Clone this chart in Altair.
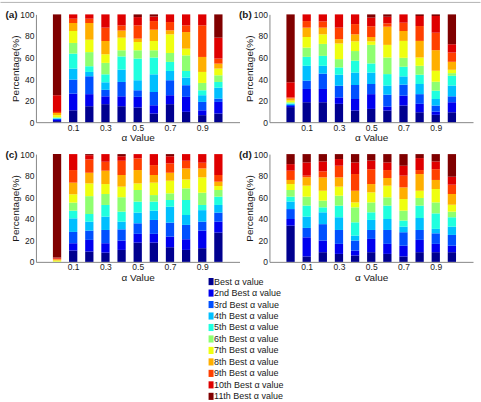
import altair as alt
import pandas as pd

# alpha settings along the x axis and the ranking categories of the stacks
alpha_values = [0.0, 0.1, 0.2, 0.3, 0.4, 0.5, 0.6, 0.7, 0.8, 0.9, 1.0]
rank_labels = [
    "Best α value", "2nd Best α value", "3rd Best α value", "4th Best α value",
    "5th Best α value", "6th Best α value", "7th Best α value", "8th Best α value",
    "9th Best α value", "10th Best α value", "11th Best α value",
]
# jet colormap sampled at 11 levels
jet_colors = ["#00008F", "#0000EF", "#0050FF", "#00BFFF", "#20FFDF", "#8FFF70",
              "#EFFF10", "#FFAF00", "#FF4000", "#DF0000", "#800000"]
x_ticks = [0.1, 0.3, 0.5, 0.7, 0.9]
y_ticks = [0, 20, 40, 60, 80, 100]

# cumulative percentage (%) at the top of each rank, one row per alpha value
cum_a = [
    [1, 2, 3, 3.5, 4, 4.5, 6.5, 8.5, 9.5, 25, 100],
    [11, 26.5, 39.5, 49.7, 63.6, 73.5, 84.6, 92, 96, 100, 100],
    [14.8, 26, 42.6, 46.6, 51.9, 65, 76.5, 92, 96, 100, 100],
    [16.7, 24, 30, 37, 44.4, 55, 63, 75.3, 87.7, 100, 100],
    [14.8, 24, 37.3, 48.8, 61, 66.7, 78.4, 85, 89.8, 100, 100],
    [13.6, 23.5, 29.6, 38.9, 59, 66.7, 74.4, 77.5, 89.8, 97.5, 100],
    [8, 15.7, 28, 44.4, 60, 66.7, 75.3, 85.8, 93.8, 98, 100],
    [16.7, 25, 38.9, 47.5, 55.9, 64.2, 81.5, 85.2, 92.9, 100, 100],
    [9.6, 23.5, 34.3, 41.4, 47.5, 62, 68.2, 83.6, 89.8, 100, 100],
    [6.5, 11, 18.8, 25, 29.6, 36.4, 46.6, 60.5, 89.8, 100, 100],
    [8, 18.8, 21.9, 32, 37.3, 43.5, 49.7, 54.3, 59, 78.4, 100],
]
cum_b = [
    [14, 15, 16, 17, 17.5, 18.5, 20, 22, 23, 37, 100],
    [18.5, 30.8, 38.5, 52.3, 60.6, 69.2, 79, 87.7, 93.8, 100, 100],
    [18.5, 30.8, 45, 52.3, 61.5, 72.6, 81.5, 87.7, 93.5, 100, 100],
    [17, 23, 33.8, 44, 50.8, 58.5, 73, 77, 87.7, 100, 100],
    [10.8, 21.5, 34.5, 46, 57, 66, 75, 81.5, 91, 100, 100],
    [12.3, 26, 35.4, 46, 54.5, 71.7, 75, 79, 89, 97, 100],
    [10.8, 14.5, 25.5, 34, 44.6, 60, 71.7, 88.6, 91.7, 97.8, 100],
    [15.4, 24.6, 34.8, 42.5, 51.4, 59.7, 75.4, 84.6, 92.3, 100, 100],
    [9.2, 17, 26, 35.4, 44, 52.3, 60, 75.4, 89.2, 98.5, 100],
    [6.8, 9.8, 15.4, 21.5, 29.2, 37.5, 47.7, 66.8, 83, 98.5, 100],
    [9.2, 18.5, 24, 34, 43, 45.5, 48.6, 56, 64.6, 72.3, 100],
]
cum_c = [
    [0, 0, 0, 0, 0, 0.3, 1.3, 2.3, 3, 4, 100],
    [10.5, 17.3, 27.8, 40.4, 47.5, 55, 62.7, 73.5, 85.2, 100, 100],
    [9.6, 20.4, 29, 37.3, 44.4, 61, 72.8, 82.7, 95, 99, 100],
    [8.6, 17.3, 29.6, 42, 52.8, 63, 72.2, 84.6, 92.9, 100, 100],
    [11.1, 19.8, 30.2, 37.3, 46.6, 60, 69.8, 80.6, 93.8, 98, 100],
    [17.9, 26, 35.8, 45.7, 55.9, 66.7, 72.8, 85.2, 96, 100, 100],
    [17.9, 26, 38.9, 47.5, 55.9, 62, 73.5, 80.6, 89.8, 100, 100],
    [13.6, 23.5, 36.4, 51.2, 57.4, 63.6, 75.3, 82.7, 91.4, 98, 100],
    [11.1, 21, 34.3, 43.5, 57.4, 68.2, 76.5, 86.7, 93.8, 100, 100],
    [12.7, 29, 37.3, 48, 52.8, 64.2, 78.4, 86.7, 92, 100, 100],
    [27.2, 37.3, 45.7, 52.8, 60.5, 66.7, 70.4, 74.4, 80.6, 100, 100],
]
cum_d = [
    [33.6, 39.8, 49, 56, 60.5, 66.7, 72.2, 76, 84.6, 90.7, 100],
    [5, 22.8, 31.5, 42, 52.2, 60.5, 70.7, 78.5, 80, 92.3, 100],
    [9, 19.8, 35, 46, 50.6, 56.8, 66, 78.4, 84, 93.2, 100],
    [7.4, 16.7, 29.6, 41.4, 52.2, 61.4, 69.8, 78.4, 89.2, 95.4, 100],
    [5.9, 10.5, 19.8, 24.4, 36.7, 50.6, 55.2, 66, 81.5, 92.3, 100],
    [9, 21.3, 29.6, 38.9, 46, 55.2, 64.5, 72.2, 86, 94, 100],
    [7.4, 16.7, 29.6, 39.8, 52.2, 59.9, 70.7, 77.8, 85.2, 92.3, 100],
    [5, 15, 27.5, 32.7, 38.3, 47.5, 58.3, 69.1, 80, 89.2, 100],
    [9, 20.4, 29.6, 40.7, 52.2, 59.3, 66, 81.5, 85.2, 96.3, 100],
    [9, 16.7, 26.5, 30.6, 45, 55.2, 67.6, 76, 86, 93.2, 100],
    [9, 15, 25, 32.7, 41.4, 46.6, 53, 63, 71.6, 79, 100],
]

FONT = "Liberation Sans"
TEXT = "#1a1a1a"
PLOT_W, PLOT_H = 204, 108

color_scale = alt.Scale(domain=rank_labels, range=jet_colors)


def segments(cum):
    """Turn cumulative tops into (lo, hi) spans for every rank of every bar."""
    rows = []
    for a, tops in zip(alpha_values, cum):
        lo = 0.0
        for k, hi in enumerate(tops):
            rows.append({"alpha": a, "rank": rank_labels[k], "lo": lo, "hi": hi})
            lo = hi
    return pd.DataFrame(rows)


def panel(cum, tag, top_line=False):
    bars = alt.Chart(segments(cum)).mark_bar(size=8.3, strokeWidth=0).encode(
        x=alt.X(
            "alpha:Q",
            scale=alt.Scale(domain=[-0.1, 1.1], nice=False, zero=False),
            axis=alt.Axis(values=x_ticks, format=".1f", title="α Value",
                          tickSize=0, labelPadding=1, titlePadding=1,
                          labelFontSize=8.5, titleFontSize=10, grid=False,
                          domainColor="#888888", labelColor=TEXT, titleColor=TEXT,
                          titleFontWeight="normal", labelFont=FONT, titleFont=FONT),
        ),
        y=alt.Y(
            "lo:Q",
            scale=alt.Scale(domain=[0, 100], nice=False),
            axis=alt.Axis(values=y_ticks, title="Percentage(%)",
                          tickSize=0, labelPadding=2, titlePadding=-1,
                          labelFontSize=8.5, titleFontSize=10, grid=False,
                          domainColor="#888888", labelColor=TEXT, titleColor=TEXT,
                          titleFontWeight="normal", labelFont=FONT, titleFont=FONT),
        ),
        y2="hi:Q",
        color=alt.Color("rank:N", scale=color_scale, legend=None),
    )
    label = alt.Chart(pd.DataFrame({"t": [tag]})).mark_text(
        align="left", baseline="middle", fontWeight="bold", fontSize=10,
        font=FONT, color=TEXT,
    ).encode(text="t:N", x=alt.value(-30.5), y=alt.value(1))
    layers = [bars, label]
    if top_line:
        frame = alt.Chart(pd.DataFrame({"t": [0]})).mark_rule(
            color="#b4b4b4", strokeWidth=1
        ).encode(x=alt.value(-35.5), x2=alt.value(445.5), y=alt.value(-12))
        layers.append(frame)
    return alt.layer(*layers).properties(width=PLOT_W, height=PLOT_H)


# legend drawn as its own small chart in the grid cell below panel (c);
# its band range starts above the cell so the rows sit close under the panels
legend_df = pd.DataFrame({"rank": rank_labels})
leg_y = alt.Y("rank:N", sort=rank_labels, axis=None,
              scale=alt.Scale(range=[-18, 108.5], paddingInner=0.38, paddingOuter=0.19))
swatches = alt.Chart(legend_df).mark_rect().encode(
    x=alt.value(173), x2=alt.value(178), y=leg_y,
    color=alt.Color("rank:N", scale=color_scale, legend=None),
)
names = alt.Chart(legend_df).mark_text(
    align="left", baseline="middle", fontSize=9, font=FONT, color=TEXT
).encode(x=alt.value(178.5), y=leg_y, text="rank:N")
legend = alt.layer(swatches, names).properties(
    width=PLOT_W, height=90, view=alt.ViewBackground(stroke=None)
)

chart = alt.concat(
    panel(cum_a, "(a)", top_line=True), panel(cum_b, "(b)"),
    panel(cum_c, "(c)"), panel(cum_d, "(d)"),
    legend,
    columns=2, spacing={"row": 32, "column": 30}, bounds="flush",
).properties(
    padding={"left": 0, "top": 1, "right": 0, "bottom": 0},
    background="white",
).configure(font=FONT, view=alt.ViewConfig(stroke=None))

chart.save("out.html", embed_options={"renderer": "svg", "actions": False})
